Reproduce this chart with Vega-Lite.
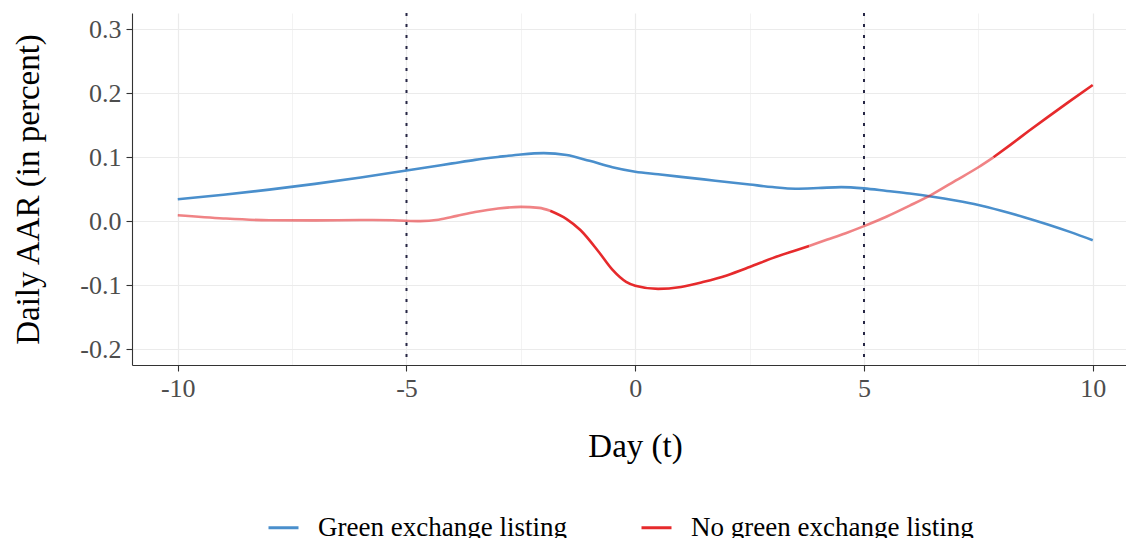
{
  "$schema": "https://vega.github.io/schema/vega-lite/v6.json",
  "autosize": {"type": "none"},
  "padding": {"left": 132, "top": 13, "right": 0, "bottom": 173},
  "width": 994,
  "height": 352,
  "background": "white",
  "config": {
    "font": "Liberation Serif",
    "view": {"stroke": null},
    "axis": {
      "labelColor": "#4D4D4D",
      "labelFontSize": 26,
      "titleFontSize": 33,
      "titleFontWeight": "normal",
      "titleColor": "#000000",
      "domainColor": "#333333",
      "domainWidth": 1.1,
      "tickColor": "#333333",
      "tickSize": 6,
      "tickWidth": 1.1,
      "gridColor": "#EBEBEB"
    }
  },
  "datasets": {
    "window": [
      {"event_window_bound": -5},
      {"event_window_bound": 5}
    ],
    "aar": [
      {"group": "Green exchange listing", "seg": "G1", "sig": "yes", "day": -10, "aar": 0.034},
      {"group": "Green exchange listing", "seg": "G1", "sig": "yes", "day": -9, "aar": 0.041},
      {"group": "Green exchange listing", "seg": "G1", "sig": "yes", "day": -8, "aar": 0.049},
      {"group": "Green exchange listing", "seg": "G1", "sig": "yes", "day": -7, "aar": 0.058},
      {"group": "Green exchange listing", "seg": "G1", "sig": "yes", "day": -6, "aar": 0.068},
      {"group": "Green exchange listing", "seg": "G1", "sig": "yes", "day": -5, "aar": 0.079},
      {"group": "Green exchange listing", "seg": "G1", "sig": "yes", "day": -4.5, "aar": 0.0845},
      {"group": "Green exchange listing", "seg": "G1", "sig": "yes", "day": -4, "aar": 0.09},
      {"group": "Green exchange listing", "seg": "G1", "sig": "yes", "day": -3.5, "aar": 0.0955},
      {"group": "Green exchange listing", "seg": "G1", "sig": "yes", "day": -3, "aar": 0.1},
      {"group": "Green exchange listing", "seg": "G1", "sig": "yes", "day": -2.5, "aar": 0.104},
      {"group": "Green exchange listing", "seg": "G1", "sig": "yes", "day": -2, "aar": 0.106},
      {"group": "Green exchange listing", "seg": "G1", "sig": "yes", "day": -1.5, "aar": 0.103},
      {"group": "Green exchange listing", "seg": "G1", "sig": "yes", "day": -1, "aar": 0.094},
      {"group": "Green exchange listing", "seg": "G1", "sig": "yes", "day": -0.5, "aar": 0.084},
      {"group": "Green exchange listing", "seg": "G1", "sig": "yes", "day": 0, "aar": 0.077},
      {"group": "Green exchange listing", "seg": "G1", "sig": "yes", "day": 0.5, "aar": 0.073},
      {"group": "Green exchange listing", "seg": "G1", "sig": "yes", "day": 1, "aar": 0.069},
      {"group": "Green exchange listing", "seg": "G1", "sig": "yes", "day": 1.5, "aar": 0.065},
      {"group": "Green exchange listing", "seg": "G1", "sig": "yes", "day": 2, "aar": 0.061},
      {"group": "Green exchange listing", "seg": "G1", "sig": "yes", "day": 2.5, "aar": 0.057},
      {"group": "Green exchange listing", "seg": "G1", "sig": "yes", "day": 3, "aar": 0.053},
      {"group": "Green exchange listing", "seg": "G1", "sig": "yes", "day": 3.5, "aar": 0.0505},
      {"group": "Green exchange listing", "seg": "G1", "sig": "yes", "day": 4, "aar": 0.0515},
      {"group": "Green exchange listing", "seg": "G1", "sig": "yes", "day": 4.5, "aar": 0.053},
      {"group": "Green exchange listing", "seg": "G1", "sig": "yes", "day": 5, "aar": 0.051},
      {"group": "Green exchange listing", "seg": "G1", "sig": "yes", "day": 5.5, "aar": 0.047},
      {"group": "Green exchange listing", "seg": "G1", "sig": "yes", "day": 6, "aar": 0.043},
      {"group": "Green exchange listing", "seg": "G1", "sig": "yes", "day": 6.5, "aar": 0.038},
      {"group": "Green exchange listing", "seg": "G1", "sig": "yes", "day": 7, "aar": 0.032},
      {"group": "Green exchange listing", "seg": "G1", "sig": "yes", "day": 7.5, "aar": 0.025},
      {"group": "Green exchange listing", "seg": "G1", "sig": "yes", "day": 8, "aar": 0.016},
      {"group": "Green exchange listing", "seg": "G1", "sig": "yes", "day": 8.5, "aar": 0.006},
      {"group": "Green exchange listing", "seg": "G1", "sig": "yes", "day": 9, "aar": -0.005},
      {"group": "Green exchange listing", "seg": "G1", "sig": "yes", "day": 9.5, "aar": -0.017},
      {"group": "Green exchange listing", "seg": "G1", "sig": "yes", "day": 10, "aar": -0.03},

      {"group": "No green exchange listing", "seg": "R1", "sig": "no", "day": -10, "aar": 0.009},
      {"group": "No green exchange listing", "seg": "R1", "sig": "no", "day": -9, "aar": 0.004},
      {"group": "No green exchange listing", "seg": "R1", "sig": "no", "day": -8, "aar": 0.0012},
      {"group": "No green exchange listing", "seg": "R1", "sig": "no", "day": -7, "aar": 0.001},
      {"group": "No green exchange listing", "seg": "R1", "sig": "no", "day": -6, "aar": 0.0015},
      {"group": "No green exchange listing", "seg": "R1", "sig": "no", "day": -5.3, "aar": 0.0012},
      {"group": "No green exchange listing", "seg": "R1", "sig": "no", "day": -4.7, "aar": -0.0002},
      {"group": "No green exchange listing", "seg": "R1", "sig": "no", "day": -4.3, "aar": 0.002},
      {"group": "No green exchange listing", "seg": "R1", "sig": "no", "day": -3.9, "aar": 0.008},
      {"group": "No green exchange listing", "seg": "R1", "sig": "no", "day": -3.5, "aar": 0.014},
      {"group": "No green exchange listing", "seg": "R1", "sig": "no", "day": -3, "aar": 0.0195},
      {"group": "No green exchange listing", "seg": "R1", "sig": "no", "day": -2.5, "aar": 0.022},
      {"group": "No green exchange listing", "seg": "R1", "sig": "no", "day": -2.1, "aar": 0.0205},
      {"group": "No green exchange listing", "seg": "R1", "sig": "no", "day": -1.86, "aar": 0.016},
      {"group": "No green exchange listing", "seg": "R2", "sig": "yes", "day": -1.86, "aar": 0.016},
      {"group": "No green exchange listing", "seg": "R2", "sig": "yes", "day": -1.5, "aar": 0.003},
      {"group": "No green exchange listing", "seg": "R2", "sig": "yes", "day": -1.2, "aar": -0.014},
      {"group": "No green exchange listing", "seg": "R2", "sig": "yes", "day": -0.8, "aar": -0.048},
      {"group": "No green exchange listing", "seg": "R2", "sig": "yes", "day": -0.5, "aar": -0.076},
      {"group": "No green exchange listing", "seg": "R2", "sig": "yes", "day": -0.2, "aar": -0.095},
      {"group": "No green exchange listing", "seg": "R2", "sig": "yes", "day": 0, "aar": -0.101},
      {"group": "No green exchange listing", "seg": "R2", "sig": "yes", "day": 0.5, "aar": -0.106},
      {"group": "No green exchange listing", "seg": "R2", "sig": "yes", "day": 1, "aar": -0.103},
      {"group": "No green exchange listing", "seg": "R2", "sig": "yes", "day": 1.5, "aar": -0.095},
      {"group": "No green exchange listing", "seg": "R2", "sig": "yes", "day": 2, "aar": -0.085},
      {"group": "No green exchange listing", "seg": "R2", "sig": "yes", "day": 2.5, "aar": -0.072},
      {"group": "No green exchange listing", "seg": "R2", "sig": "yes", "day": 3, "aar": -0.058},
      {"group": "No green exchange listing", "seg": "R2", "sig": "yes", "day": 3.5, "aar": -0.046},
      {"group": "No green exchange listing", "seg": "R2", "sig": "yes", "day": 3.8, "aar": -0.039},
      {"group": "No green exchange listing", "seg": "R3", "sig": "no", "day": 3.8, "aar": -0.039},
      {"group": "No green exchange listing", "seg": "R3", "sig": "no", "day": 4.2, "aar": -0.029},
      {"group": "No green exchange listing", "seg": "R3", "sig": "no", "day": 4.6, "aar": -0.019},
      {"group": "No green exchange listing", "seg": "R3", "sig": "no", "day": 5, "aar": -0.008},
      {"group": "No green exchange listing", "seg": "R3", "sig": "no", "day": 5.5, "aar": 0.007},
      {"group": "No green exchange listing", "seg": "R3", "sig": "no", "day": 6, "aar": 0.024},
      {"group": "No green exchange listing", "seg": "R3", "sig": "no", "day": 6.5, "aar": 0.042},
      {"group": "No green exchange listing", "seg": "R3", "sig": "no", "day": 7, "aar": 0.063},
      {"group": "No green exchange listing", "seg": "R3", "sig": "no", "day": 7.5, "aar": 0.084},
      {"group": "No green exchange listing", "seg": "R3", "sig": "no", "day": 7.83, "aar": 0.0995},
      {"group": "No green exchange listing", "seg": "R4", "sig": "yes", "day": 7.83, "aar": 0.0995},
      {"group": "No green exchange listing", "seg": "R4", "sig": "yes", "day": 8.2, "aar": 0.119},
      {"group": "No green exchange listing", "seg": "R4", "sig": "yes", "day": 8.6, "aar": 0.1405},
      {"group": "No green exchange listing", "seg": "R4", "sig": "yes", "day": 9, "aar": 0.1615},
      {"group": "No green exchange listing", "seg": "R4", "sig": "yes", "day": 9.5, "aar": 0.1873},
      {"group": "No green exchange listing", "seg": "R4", "sig": "yes", "day": 10, "aar": 0.2125}
    ]
  },
  "layer": [
    {
      "data": {"name": "window"},
      "mark": {"type": "rule", "color": "#262645", "strokeWidth": 2, "strokeDash": [3, 8]},
      "encoding": {
        "x": {"field": "event_window_bound", "type": "quantitative"}
      }
    },
    {
      "mark": {"type": "rule", "color": "#4D4D4D", "strokeWidth": 1.1},
      "encoding": {"y": {"datum": 0, "type": "quantitative"}}
    },
    {
      "mark": {"type": "rule", "color": "#333333", "strokeWidth": 1.1},
      "encoding": {"y": {"datum": 0.325, "type": "quantitative"}}
    },
    {
      "data": {"name": "aar"},
      "mark": {"type": "line", "strokeWidth": 2.6, "interpolate": "monotone", "strokeCap": "butt"},
      "encoding": {
        "x": {
          "field": "day",
          "type": "quantitative",
          "scale": {"domain": [-11, 10.727], "nice": false, "zero": false},
          "axis": {
            "values": [-10, -7.5, -5, -2.5, 0, 2.5, 5, 7.5, 10],
            "labelExpr": "datum.value % 5 == 0 ? toString(datum.value) : ''",
            "tickOpacity": {"condition": {"test": "datum.value % 5 != 0", "value": 0}, "value": 1},
            "gridWidth": {"condition": {"test": "datum.value % 5 != 0", "value": 0.6}, "value": 1.2},
            "grid": true,
            "labelPadding": 4,
            "title": "Day (t)",
            "titleX": 503,
            "titleY": 91,
            "titleAlign": "center",
            "titleBaseline": "alphabetic"
          }
        },
        "y": {
          "field": "aar",
          "type": "quantitative",
          "scale": {"domain": [-0.225, 0.325], "nice": false, "zero": false},
          "axis": {
            "values": [-0.2, -0.15, -0.1, -0.05, 0, 0.05, 0.1, 0.15, 0.2, 0.25, 0.3],
            "labelExpr": "round(datum.value*20) % 2 == 0 ? (datum.value < -0.001 ? '-' : '') + format(abs(datum.value), '.1f') : ''",
            "tickOpacity": {"condition": {"test": "round(datum.value*20) % 2 != 0", "value": 0}, "value": 1},
            "gridWidth": {"condition": {"test": "round(datum.value*20) % 2 != 0", "value": 0.6}, "value": 1.2},
            "grid": true,
            "labelPadding": 5,
            "title": "Daily AAR (in percent)",
            "titleX": -94,
            "titleY": 176,
            "titleAngle": -90,
            "titleAlign": "center",
            "titleBaseline": "alphabetic"
          }
        },
        "detail": {"field": "seg"},
        "color": {
          "field": "group",
          "type": "nominal",
          "scale": {"domain": ["Green exchange listing", "No green exchange listing"], "range": ["#4A8FCC", "#E62A2C"]},
          "legend": {
            "title": null,
            "orient": "none",
            "direction": "horizontal",
            "legendX": 135,
            "legendY": 498,
            "padding": 0,
            "symbolType": "stroke",
            "symbolSize": 900,
            "symbolStrokeWidth": 3,
            "symbolOpacity": 1,
            "labelFontSize": 27,
            "labelColor": "#000000",
            "labelOffset": 18,
            "columnPadding": 68,
            "labelLimit": 0
          }
        },
        "opacity": {
          "field": "sig",
          "type": "nominal",
          "scale": {"domain": ["yes", "no"], "range": [1, 0.58]},
          "legend": null
        }
      }
    }
  ]
}
